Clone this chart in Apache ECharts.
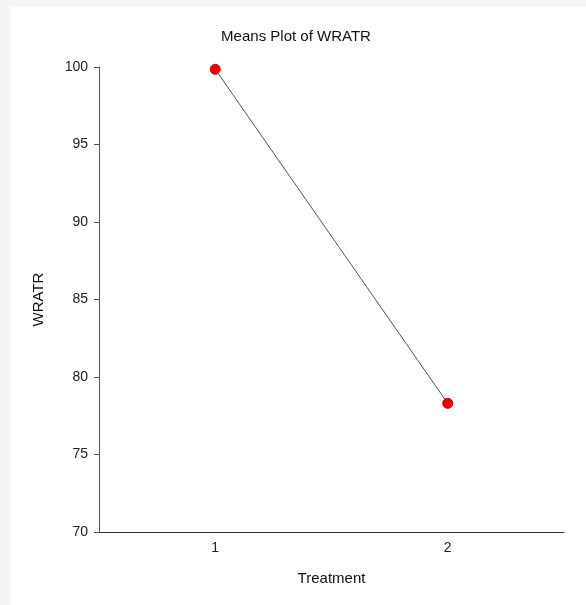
<!DOCTYPE html>
<html>
<head>
<meta charset="utf-8">
<script src="https://cdn.jsdelivr.net/npm/echarts@6/dist/echarts.min.js"></script>
<style>
  html, body { margin: 0; padding: 0; background: #f5f5f5; }
  #chart { width: 586px; height: 605px; }
</style>
</head>
<body>
<div id="chart"></div>
<script>
// data
var treatments = ['1', '2'];
var meansWratr = [99.85, 78.3];
var yTicks = [70, 75, 80, 85, 90, 95, 100];

var myChart = echarts.init(document.getElementById('chart'));

var option = {
    animation: false,
    backgroundColor: 'transparent',
    textStyle: { fontFamily: 'Liberation Sans, Arial, sans-serif' },
    graphic: [{
        type: 'rect',
        z: -100,
        silent: true,
        shape: { x: 11, y: 7, width: 580, height: 600 },
        style: { fill: '#ffffff' }
    }],
    title: {
        text: 'Means Plot of WRATR',
        left: 291,
        top: 24,
        textAlign: 'center',
        textStyle: { fontSize: 15, fontWeight: 'normal', color: '#111' }
    },
    grid: { left: 99, top: 67, right: 22, bottom: 73 },
    xAxis: {
        type: 'category',
        data: treatments,
        boundaryGap: true,
        name: 'Treatment',
        nameLocation: 'middle',
        nameGap: 39,
        nameTextStyle: { fontSize: 15, color: '#111' },
        axisLine: { lineStyle: { color: '#333', width: 1 } },
        axisTick: { alignWithLabel: true, length: 5, lineStyle: { color: '#333' } },
        axisLabel: { fontSize: 14, color: '#222', margin: 9 },
        splitLine: { show: false }
    },
    yAxis: {
        type: 'value',
        min: yTicks[0],
        max: yTicks[yTicks.length - 1],
        interval: 5,
        name: 'WRATR',
        nameLocation: 'middle',
        nameRotate: 90,
        nameGap: 53,
        nameTextStyle: { fontSize: 15, color: '#111' },
        axisLine: { show: true, lineStyle: { color: '#555', width: 1 } },
        axisTick: { show: true, length: 5, lineStyle: { color: '#555' } },
        axisLabel: { fontSize: 14, color: '#222', margin: 11 },
        splitLine: { show: false }
    },
    series: [{
        type: 'line',
        data: meansWratr,
        symbol: 'circle',
        symbolSize: 10,
        lineStyle: { color: '#555', width: 1 },
        itemStyle: { color: '#ee0000', borderColor: '#cc0000', borderWidth: 1 }
    }]
};

myChart.setOption(option);
</script>
</body>
</html>
